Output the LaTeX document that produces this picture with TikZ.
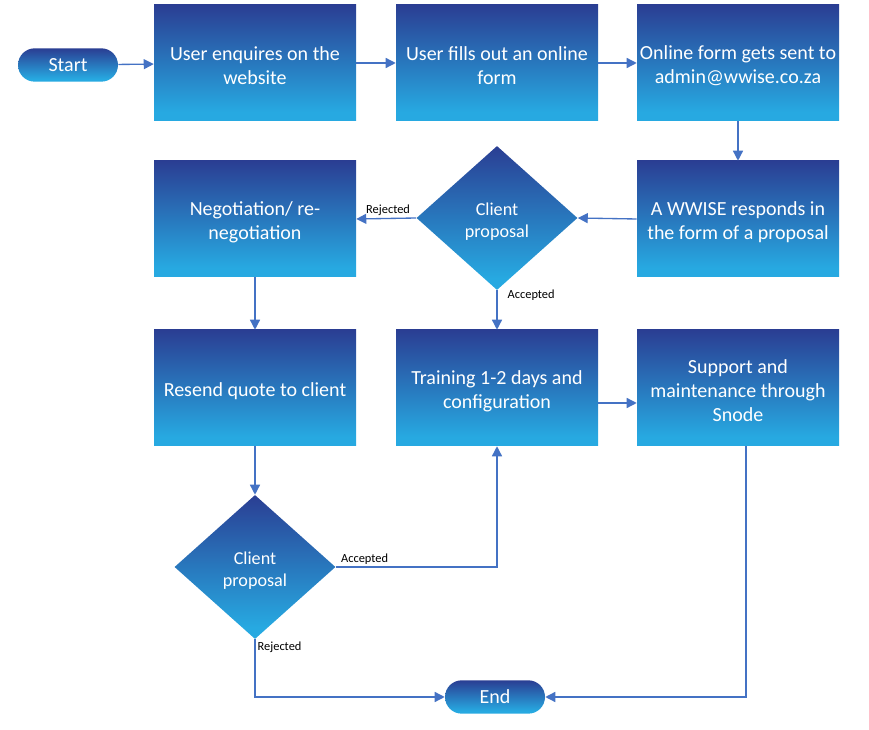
\documentclass[tikz,border=0pt]{standalone}
\usepackage{fontspec}
\setmainfont{Carlito}
\usetikzlibrary{shapes.geometric,arrows.meta}
\definecolor{db}{RGB}{42,62,147}
\definecolor{lb}{RGB}{39,169,225}
\definecolor{ln}{RGB}{68,114,196}
\pgfdeclareverticalshading{wgrad}{100bp}{color(0bp)=(lb); color(29bp)=(lb); color(75bp)=(db); color(100bp)=(db)}
\begin{document}
\begin{tikzpicture}[x=0.75pt,y=-0.75pt,
  box/.style={shading=wgrad, draw=none, minimum width=151.5pt, minimum height=87pt, inner sep=0pt},
  btxt/.style={align=center, text=white, inner sep=0pt, yshift=-2.25pt, font=\fontsize{15}{18}\selectfont},
  pill/.style={shading=wgrad, draw=none, rounded corners=12.5pt, minimum width=75pt, minimum height=25pt, inner sep=0pt, text=white, font=\fontsize{15}{18}\selectfont},
  dia/.style={diamond, shading=wgrad, draw=none, minimum width=120.75pt, minimum height=108pt, inner sep=0pt},
  dtxt/.style={align=center, text=white, inner sep=0pt, yshift=-3pt, font=\fontsize{13.6}{16.5}\selectfont},
  arr/.style={draw=ln, line width=1pt, -{Triangle[length=7.5pt,width=7.5pt]}},
  lbl/.style={text=black, font=\fontsize{9.3}{11}\selectfont, inner sep=1.5pt}]
\useasboundingbox (0,0) rectangle (869,730);

\node[pill] (start) at (68,65) {Start};
\node[box, label={[btxt]center:User enquires on the\\website}] (b1) at (255,63) {};
\node[box, label={[btxt]center:User fills out an online\\form}] (b2) at (497,63) {};
\node[box, label={[btxt]center:Online form gets sent to\\admin@wwise.co.za}] (b3) at (738,63) {};
\node[box, label={[btxt]center:A WWISE responds in\\the form of a proposal}] (b4) at (738,219) {};
\node[dia, label={[dtxt]center:Client\\proposal}] (d1) at (497,218) {};
\node[box, label={[btxt]center:Negotiation/ re-\\negotiation}] (b5) at (255,219) {};
\node[box, label={[btxt]center:Resend quote to client}] (b6) at (255,388) {};
\node[box, label={[btxt]center:Training 1-2 days and\\configuration}] (b7) at (497,388) {};
\node[box, label={[btxt]center:Support and\\maintenance through\\Snode}] (b8) at (738,388) {};
\node[dia, label={[dtxt]center:Client\\proposal}] (d2) at (255,567) {};
\node[pill] (end) at (495,697) {End};

\draw[arr] (start) -- (b1);
\draw[arr] (b1) -- (b2);
\draw[arr] (b2) -- (b3);
\draw[arr] (b3) -- (b4);
\draw[arr] (b4.west) -- (d1.east);
\draw[arr] (d1.west) -- node[pos=0.06, anchor=south east, lbl] {Rejected} (b5.east);
\draw[arr] (d1.south) -- node[pos=0, anchor=north west, lbl, xshift=6pt, yshift=2.5pt] {Accepted} (b7.north);
\draw[arr] (b5) -- (b6);
\draw[arr] (b6) -- (d2);
\draw[arr] (d2.east) -| node[pos=0, anchor=south west, lbl, xshift=2pt] {Accepted} (b7.south);
\draw[arr] (d2.south) |- node[pos=0, anchor=north west, lbl] {Rejected} (end.west);
\draw[arr] ([xshift=6pt]b8.south) |- (end.east);
\draw[arr] ([yshift=-11.25pt]b7.east) -- ([yshift=-11.25pt]b8.west);
\end{tikzpicture}
\end{document}
